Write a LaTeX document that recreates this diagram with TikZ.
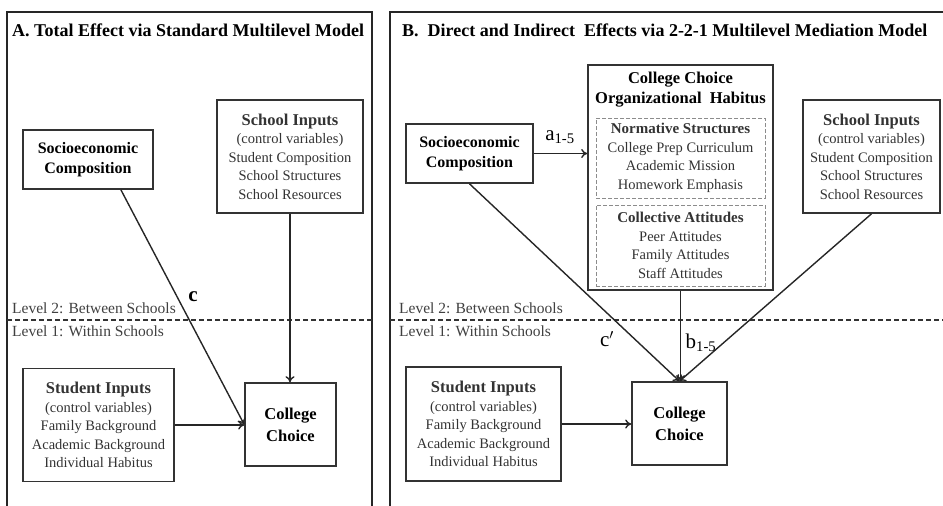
\documentclass[tikz,border=0pt]{standalone}
\usepackage{fontspec}
\setmainfont{Liberation Serif}
\usetikzlibrary{arrows.meta, positioning, calc}

\newcommand{\boxhead}[1]{{\fontsize{16.5}{18.5}\selectfont\bfseries #1}}
\newcommand{\grouphead}[1]{{\fontsize{15}{18.5}\selectfont\bfseries #1}}

\begin{document}
\begin{tikzpicture}[x=1pt,y=-1pt,
    panel/.style={draw=black!85,line width=1.5pt},
    modelbox/.style={draw=black!80,line width=1.6pt,align=center,inner sep=0pt,
      text=black!80,font=\fontsize{14.5}{18.5}\selectfont},
    groupbox/.style={draw=black!45,dash pattern=on 4pt off 2pt,line width=0.9pt,
      align=center,inner sep=0pt,text=black!80,font=\fontsize{14.5}{18.5}\selectfont},
    choicebox/.style={modelbox,text=black,font=\fontsize{16.5}{22}\selectfont\bfseries},
    paneltitle/.style={anchor=west,inner sep=0pt,font=\fontsize{18}{20}\selectfont\bfseries},
    leveltext/.style={anchor=west,inner sep=0pt,text=black!75,font=\fontsize{15.5}{17}\selectfont},
    levelline/.style={draw=black!80,line width=1.1pt,dash pattern=on 5pt off 3pt},
    effect/.style={draw=black!85,line width=1.4pt,-{To[length=6pt,width=9pt]}},
    coef/.style={inner sep=0pt,font=\fontsize{21}{22}\selectfont}]
    \def\lev{320}

    \useasboundingbox (0,0) rectangle (943,506);
    \clip (0,0) rectangle (943,506);

    % panel A
    \draw[panel] (7,530) |- (372,12) -- (372,530);
    \node[paneltitle] (titA) at (12,30) {A. Total Effect via Standard Multilevel Model};

    \node[choicebox,font=\fontsize{16}{20}\selectfont\bfseries,minimum width=130pt,minimum height=59pt] (socA) at (88,159.5) {Socioeconomic\\Composition};
    \node[modelbox,minimum width=146pt,minimum height=113pt] (schA) at (290,156.5) {\boxhead{School Inputs}\\(control variables)\\Student Composition\\School Structures\\School Resources};
    \node[choicebox,minimum width=91pt,minimum height=83pt] (colA) at (290.5,424.5) {College\\Choice};
    \node[modelbox,minimum width=151pt,minimum height=113pt] (stuA) at (98.5,425) {\boxhead{Student Inputs}\\(control variables)\\Family Background\\Academic Background\\Individual Habitus};

    \draw[levelline] (7,\lev) -- (372,\lev);
    \node[leveltext] (upA) at (12,308) {Level 2: Between Schools};
    \node[leveltext] (lowA) at (12,331) {Level 1: Within Schools};

    \draw[effect] ($(socA.south)!.5!(socA.south east)$) -- (colA.west);
    \draw[effect] (schA.south) -- (schA.south |- colA.north);
    \draw[effect] (stuA.east) -- (stuA.east -| colA.west);
    \node[coef,font=\fontsize{21}{22}\selectfont\bfseries] (labC) at (193,297) {c};

    % panel B
    \draw[panel] (390,530) |- (960,12);
    \node[paneltitle] (titB) at (402,30) {B.\ \ Direct and Indirect\ \ Effects via 2-2-1 Multilevel Mediation Model};

    \node[choicebox,font=\fontsize{16}{20}\selectfont\bfseries,minimum width=127pt,minimum height=59pt] (socB) at (469.5,153.5) {Socioeconomic\\Composition};
    \node[modelbox,minimum width=185pt,minimum height=225pt] (habit) at (680.5,177.5) {};
    \node[inner sep=0pt,align=center,font=\fontsize{16.5}{20}\selectfont\bfseries] (habT) at (680.5,90) {College Choice\\Organizational\ \ Habitus};
    \node[groupbox,minimum width=169pt,minimum height=80pt] (norm) at (680.5,158) {\grouphead{Normative Structures}\\College Prep Curriculum\\Academic Mission\\Homework Emphasis};
    \node[groupbox,minimum width=169pt,minimum height=81pt] (attit) at (680.5,245.5) {\grouphead{Collective Attitudes}\\Peer Attitudes\\Family Attitudes\\Staff Attitudes};
    \node[modelbox,minimum width=137pt,minimum height=113pt] (schB) at (871.5,156.5) {\boxhead{School Inputs}\\(control variables)\\Student Composition\\School Structures\\School Resources};
    \node[choicebox,minimum width=95pt,minimum height=83pt] (colB) at (679.5,423.5) {College\\Choice};
    \node[modelbox,minimum width=155pt,minimum height=114pt] (stuB) at (483.5,424) {\boxhead{Student Inputs}\\(control variables)\\Family Background\\Academic Background\\Individual Habitus};

    \draw[levelline] (390,\lev) -- (943,\lev);
    \node[leveltext] (upB) at (399,308) {Level 2: Between Schools};
    \node[leveltext] (lowB) at (399,331) {Level 1: Within Schools};

    \draw[effect] (socB.east) -- (socB.east -| habit.west);
    \draw[effect] (socB.south) -- (colB.north);
    \draw[effect] (habit.south) -- (habit.south |- colB.north);
    \draw[effect] (schB.south) -- (colB.north);
    \draw[effect] (stuB.east) -- (stuB.east -| colB.west);
    \node[coef] (labA) at (560,137) {a\textsubscript{1-5}};
    \node[coef] (labCp) at (607,339) {c$'$};
    \node[coef] (labB) at (701,343) {b\textsubscript{1-5}};
\end{tikzpicture}
\end{document}
